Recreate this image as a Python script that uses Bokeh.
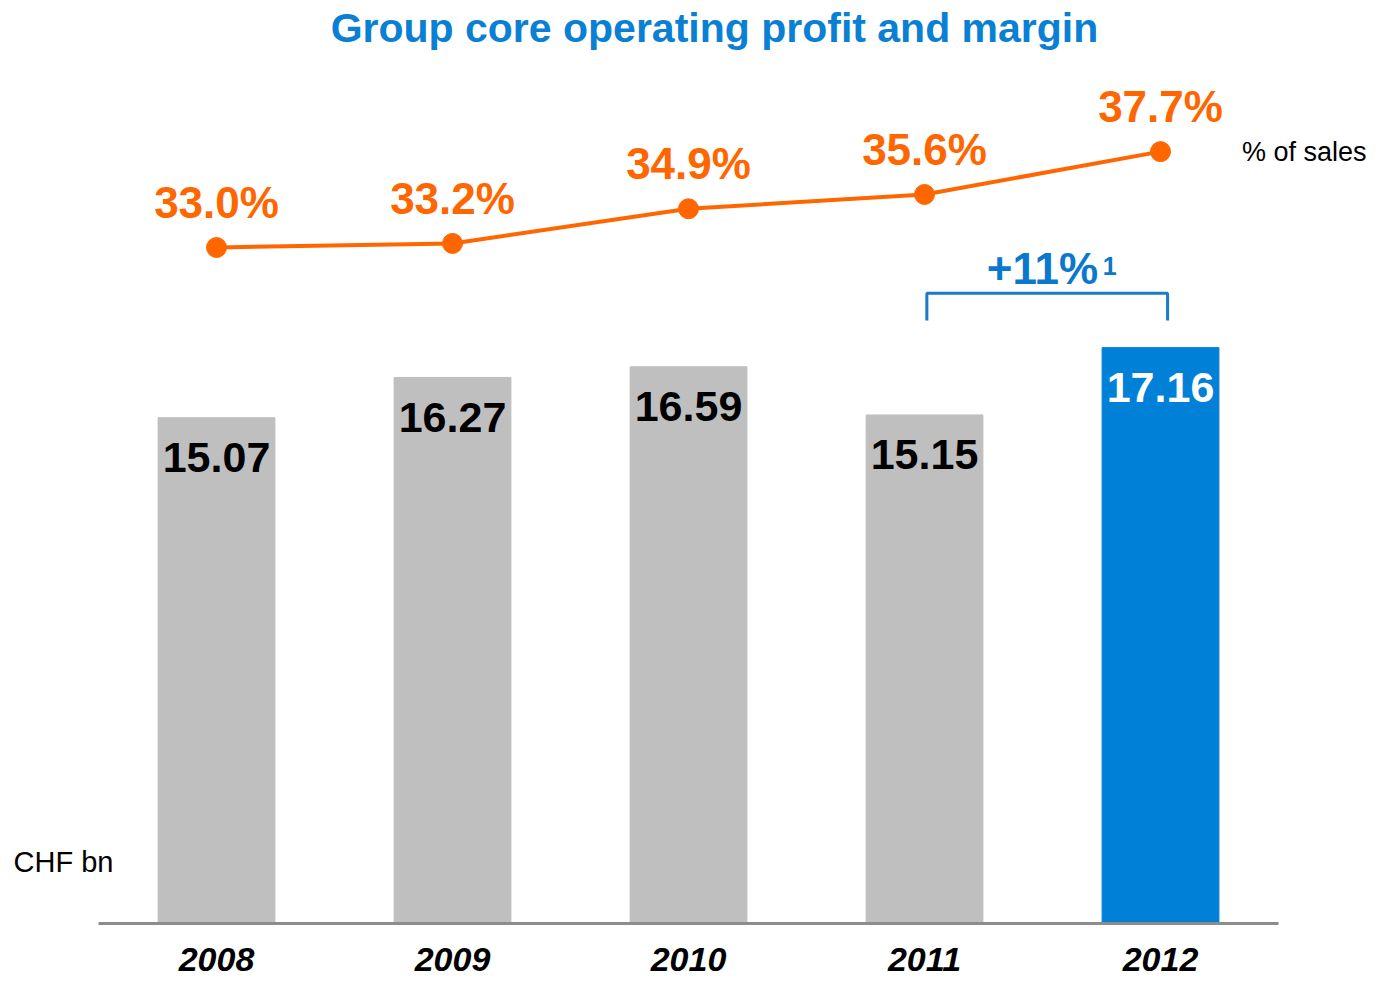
import numpy as np
from bokeh.plotting import figure
from bokeh.models import Range1d, ColumnDataSource, Label
from bokeh.core.properties import value
from bokeh.embed import file_html
from bokeh.resources import INLINE

# ---- data ----
years = ["2008", "2009", "2010", "2011", "2012"]
profit_bn = [15.07, 16.27, 16.59, 15.15, 17.16]
margin_pct = [33.0, 33.2, 34.9, 35.6, 37.7]
profit_labels = ["15.07", "16.27", "16.59", "15.15", "17.16"]
margin_labels = ["33.0%", "33.2%", "34.9%", "35.6%", "37.7%"]
growth_label = "+11%"
growth_note = "1"
title_text = "Group core operating profit and margin"
unit_text = "CHF bn"
margin_unit_text = "% of sales"

GRAY = "#BFBFBF"
BLUE = "#0080D6"
ORANGE = "#FF6600"
TITLE_BLUE = "#0A80D4"
FONT_NAME = "Liberation Sans"
FONT = value(FONT_NAME)

xs = np.arange(len(years))
bar_colors = [GRAY] * (len(years) - 1) + [BLUE]
label_colors = ["black"] * (len(years) - 1) + ["white"]

src = ColumnDataSource(dict(x=xs, profit=profit_bn, margin=margin_pct,
                            plab=profit_labels, mlab=margin_labels,
                            year=years, bc=bar_colors, lc=label_colors))

p = figure(width=1375, height=977, output_backend="svg", toolbar_location=None,
           x_axis_type=None, y_axis_type=None, min_border=0,
           x_range=Range1d(-0.9153, 4.911), y_range=Range1d(-1.642, 27.522))
p.outline_line_color = None
p.grid.visible = False
p.extra_y_ranges = {"pct": Range1d(-2.784, 45.108)}

# bars
p.vbar(x="x", top="profit", bottom=0, width=0.495, color="bc", source=src)
# baseline
p.segment(x0=[-0.5], x1=[4.5], y0=[-0.03], y1=[-0.03], line_color="#8C8C8C", line_width=3)

# bar labels
p.text(x="x", y="profit", text="plab", source=src, text_color="lc",
       text_font=FONT, text_font_style="bold", text_font_size="43px",
       text_align="center", text_baseline="middle", y_offset=40)

# year labels
p.text(x="x", y=0, text="year", source=src, text_color="black",
       text_font=FONT, text_font_style="bold italic", text_font_size="34px",
       text_align="center", text_baseline="middle", y_offset=37)

# margin line
p.line(x="x", y="margin", source=src, y_range_name="pct", line_color=ORANGE, line_width=4)
p.scatter(x="x", y="margin", source=src, y_range_name="pct", size=20,
          fill_color=ORANGE, line_color=ORANGE)
p.text(x="x", y="margin", text="mlab", source=src, y_range_name="pct",
       text_color=ORANGE, text_font=FONT, text_font_style="bold", text_font_size="44px",
       text_align="center", text_baseline="middle", y_offset=-45)

# growth bracket between 2011 and 2012
i0, i1 = years.index("2011"), years.index("2012")
bx0, bx1 = i0 + 0.01, i1 + 0.03
top_y, leg_y = 18.78, 17.97
p.line(x=[bx0, bx0, bx1, bx1], y=[leg_y, top_y, top_y, leg_y],
       line_color="#1A7ACC", line_width=3)
p.add_layout(Label(x=(bx0 + bx1) / 2 - 0.02, y=top_y, text=growth_label,
                   text_color="#0A78CC", text_font=FONT_NAME, text_font_style="bold",
                   text_font_size="44px", text_align="center", text_baseline="bottom",
                   y_offset=0))
p.add_layout(Label(x=(bx0 + bx1) / 2 + 0.235, y=top_y, text=growth_note,
                   text_color="#0A78CC", text_font=FONT_NAME, text_font_style="bold",
                   text_font_size="25px", text_align="left", text_baseline="bottom",
                   y_offset=18))

# title and unit labels
p.add_layout(Label(x=2.11, y=26.69, text=title_text, text_color=TITLE_BLUE,
                   text_font=FONT_NAME, text_font_style="bold", text_font_size="41px",
                   text_align="center", text_baseline="middle"))
p.add_layout(Label(x=-0.86, y=1.82, text=unit_text, text_color="black",
                   text_font=FONT_NAME, text_font_size="29px",
                   text_align="left", text_baseline="middle"))
p.add_layout(Label(x=4.345, y=margin_pct[-1], y_range_name="pct", text=margin_unit_text,
                   text_color="black", text_font=FONT_NAME, text_font_size="27px",
                   text_align="left", text_baseline="middle"))

open("out.html", "w").write(file_html(p, INLINE))
